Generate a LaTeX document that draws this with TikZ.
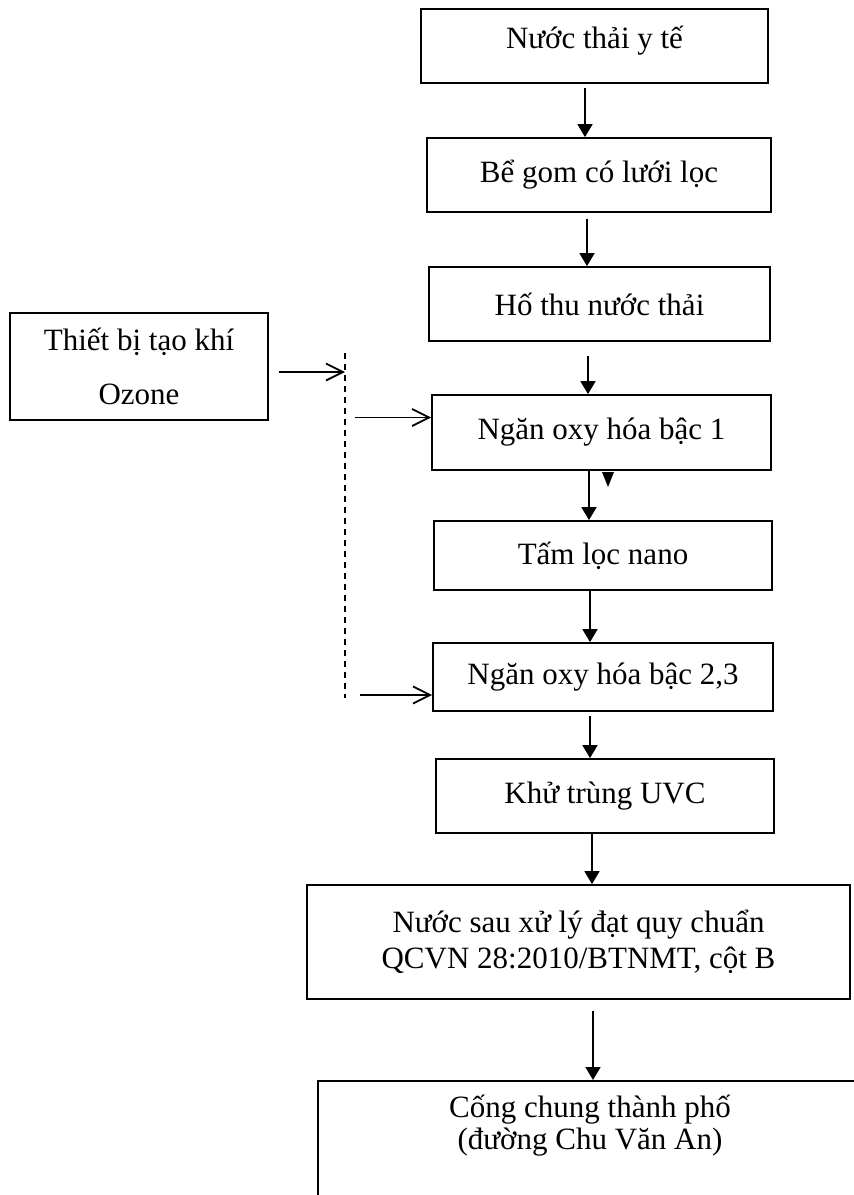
\documentclass[tikz,border=0pt]{standalone}
\usepackage{fontspec}
\setmainfont{Liberation Serif}
\usetikzlibrary{arrows.meta}

\begin{document}
\begin{tikzpicture}[x = .5pt, y = -.5pt,
    box/.style={draw, line width=.9pt, align=center, inner sep=2pt,
      font=\fontsize{15.5}{18}\selectfont},
    flow/.style={line width=.9pt, -{Triangle[length=6.5pt, width=7.5pt]}},
    gas/.style={line width=.9pt, -{Straight Barb[length=8.5pt, width=8.5pt]}}]
  \useasboundingbox (0,0) rectangle (854,1195);
  \clip (0,0) rectangle (854,1195);

  \node[box, minimum width=173.5pt, minimum height=37pt, text depth=8.5pt] (waste) at (594.5,46) {Nước thải y tế};
  \node[box, minimum width=172pt, minimum height=37pt] (collect) at (599,175) {Bể gom có lưới lọc};
  \node[box, minimum width=170.5pt, minimum height=37pt] (sump) at (599.5,304) {Hố thu nước thải};
  \node[box, minimum width=169.5pt, minimum height=37.5pt] (oxA) at (601.5,432.5) {Ngăn oxy hóa bậc 1};
  \node[box, minimum width=169pt, minimum height=34.5pt] (nano) at (603,555.5) {Tấm lọc nano};
  \node[box, minimum width=170pt, minimum height=34pt] (oxB) at (603,677) {Ngăn oxy hóa bậc 2,3};
  \node[box, minimum width=169pt, minimum height=37pt] (uvc) at (605,796) {Khử trùng UVC};
  \node[box, minimum width=271.5pt, minimum height=57pt] (treated) at (578.5,942)
    {Nước sau xử lý đạt quy chuẩn\\QCVN 28:2010/BTNMT, cột B};
  \node[box, anchor=north, minimum width=272pt, font=\fontsize{15.5}{16}\selectfont,
    text height=29pt, text depth=60pt, inner ysep=5.5pt] (sewer) at (590,1080)
    {Cống chung thành phố\\(đường Chu Văn An)};
  \node[box, minimum width=129pt, minimum height=53.5pt] (ozone) at (139,366.5)
    {Thiết bị tạo khí\\[9pt]Ozone};

  \foreach \a/\b/\x/\g in {waste/collect/585/2, collect/sump/587/3, sump/oxA/588/7,
      oxA/nano/589/0, nano/oxB/590/0, oxB/uvc/590/2, uvc/treated/592/0, treated/sewer/593/5.5}
    \draw[flow] ([yshift=-\g pt]\a.south -| \x,0) -- (\b.north -| \x,0);
  \fill (602,472) -- (614,472) -- (608,487) -- cycle;

  \coordinate (busT) at (345,353);
  \coordinate (busB) at (345,698);
  \draw[dash pattern=on 3pt off 2.5pt, line width=.6pt] (busT) -- (busB);
  \draw[gas] ([xshift=5pt, yshift=-2.75pt]ozone.east) -- ([yshift=-2.75pt]ozone.east -| busT);
  \draw[gas] ([yshift=7.5pt]oxA.west -| busT) ++(5pt,0) -- ([yshift=7.5pt]oxA.west);
  \draw[gas] ([yshift=-9pt]oxB.west -| busT) ++(7.5pt,0) -- ([yshift=-9pt]oxB.west);
\end{tikzpicture}
\end{document}
